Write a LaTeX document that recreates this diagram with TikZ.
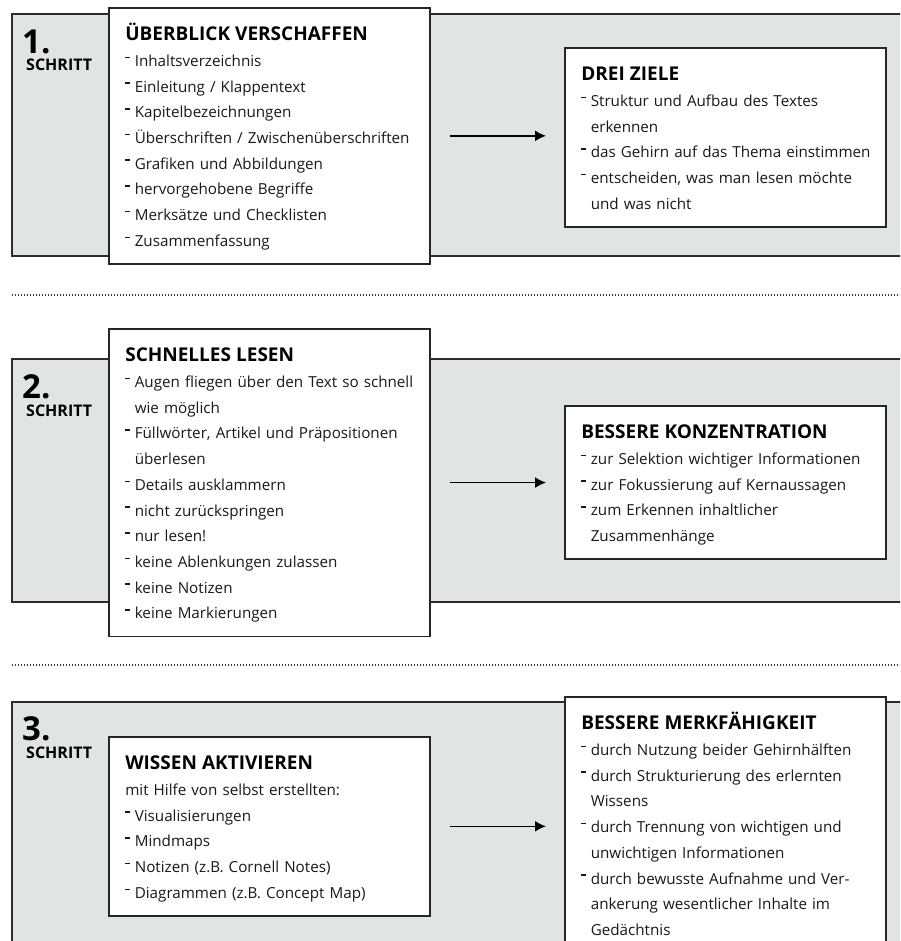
\documentclass[tikz,border=0pt]{standalone}
\usepackage{fontspec}
\setmainfont{Open Sans}
\usetikzlibrary{positioning,arrows.meta}

\definecolor{panelgrau}{RGB}{225,228,229}
\definecolor{rahmen}{RGB}{45,45,45}
\definecolor{schrift}{RGB}{25,25,25}

% Zeilen in den Kaesten
\newcommand{\titel}[1]{\rule{0pt}{33pt}{\color{black}\bfseries\fontsize{19}{25.7}\selectfont #1}}
\newcommand{\pkt}[1]{\mbox{\makebox[9.5pt][l]{\rule[8.2pt]{5pt}{1.6pt}}#1}}
\newcommand{\wtr}[1]{\mbox{\hspace*{9.5pt}#1}}
\newcommand{\schluss}{\rule[-17.5pt]{0pt}{17.5pt}}

\begin{document}
\begin{tikzpicture}[
                    x=1pt, y=-1pt,
                    >={Latex[length=11pt,width=11pt]},
                    panel/.style={fill=panelgrau, draw=rahmen, line width=1.5pt},
                    kasten/.style={draw=black!85, line width=1.6pt, fill=white, anchor=north west,
                                   inner xsep=16.5pt, inner ysep=0pt, text width=288pt, align=left,
                                   text=schrift, font=\fontsize{15.2}{25.7}\selectfont},
                    nummer/.style={font=\bfseries\fontsize{33}{33}\selectfont, inner sep=0pt, anchor=base west},
                    schritt/.style={font=\bfseries\fontsize{16}{16}\selectfont, inner sep=0pt, anchor=base west},
                    pfeil/.style={->, line width=1.5pt, shorten <=19pt, shorten >=18pt},
                    trenner/.style={draw=black!75, line width=1.2pt, dash pattern=on 1pt off 2pt}
                    ]
        \useasboundingbox (0,0) rectangle (900,941);
        \clip (0,0) rectangle (900,941);

        % Hintergruende und Trennlinien
        \draw[panel] (12,14) rectangle (910,256);
        \draw[panel] (12,359) rectangle (910,602);
        \draw[panel] (12,702) rectangle (910,960);
        \draw[trenner] (12,295) -- (900,295);
        \draw[trenner] (12,665) -- (900,665);

        % 1. Schritt
        \node[nummer] (n1) at (22,53.3) {1.};
        \node[schritt, below=17.5pt of n1.base west, anchor=base west, xshift=4pt] (s1) {SCHRITT};
        \node[kasten] (ueberblick) at (108,7) {\titel{ÜBERBLICK VERSCHAFFEN}\\
            \pkt{Inhaltsverzeichnis}\\
            \pkt{Einleitung / Klappentext}\\
            \pkt{Kapitelbezeichnungen}\\
            \pkt{Überschriften / Zwischenüberschriften}\\
            \pkt{Grafiken und Abbildungen}\\
            \pkt{hervorgehobene Begriffe}\\
            \pkt{Merksätze und Checklisten}\\
            \pkt{Zusammenfassung}\schluss};
        \node[kasten] (ziele) at (564,47) {\titel{DREI ZIELE}\\
            \pkt{Struktur und Aufbau des Textes}\\
            \wtr{erkennen}\\
            \pkt{das Gehirn auf das Thema einstimmen}\\
            \pkt{entscheiden, was man lesen möchte}\\
            \wtr{und was nicht}\schluss};
        \draw[pfeil] (ueberblick.east) -- (ueberblick.east -| ziele.west);

        % 2. Schritt
        \node[nummer] (n2) at (22,398.5) {2.};
        \node[schritt, below=18pt of n2.base west, anchor=base west, xshift=4pt] (s2) {SCHRITT};
        \node[kasten] (lesen) at (108,328) {\titel{SCHNELLES LESEN}\\
            \pkt{Augen fliegen über den Text so schnell}\\
            \wtr{wie möglich}\\
            \pkt{Füllwörter, Artikel und Präpositionen}\\
            \wtr{überlesen}\\
            \pkt{Details ausklammern}\\
            \pkt{nicht zurückspringen}\\
            \pkt{nur lesen!}\\
            \pkt{keine Ablenkungen zulassen}\\
            \pkt{keine Notizen}\\
            \pkt{keine Markierungen}\schluss};
        \node[kasten] (konzentration) at (564,405) {\titel{BESSERE KONZENTRATION}\\
            \pkt{zur Selektion wichtiger Informationen}\\
            \pkt{zur Fokussierung auf Kernaussagen}\\
            \pkt{zum Erkennen inhaltlicher}\\
            \wtr{Zusammenhänge}\schluss};
        \draw[pfeil] (lesen.east) -- (lesen.east -| konzentration.west);

        % 3. Schritt
        \node[nummer] (n3) at (22,740) {3.};
        \node[schritt, below=18pt of n3.base west, anchor=base west, xshift=4pt] (s3) {SCHRITT};
        \node[kasten] (wissen) at (108,736) {\titel{WISSEN AKTIVIEREN}\\
            \mbox{mit Hilfe von selbst erstellten:}\\
            \pkt{Visualisierungen}\\
            \pkt{Mindmaps}\\
            \pkt{Notizen (z.B. Cornell Notes)}\\
            \pkt{Diagrammen (z.B. Concept Map)}\schluss};
        \node[kasten] (merken) at (564,696) {\titel{BESSERE MERKFÄHIGKEIT}\\
            \pkt{durch Nutzung beider Gehirnhälften}\\
            \pkt{durch Strukturierung des erlernten}\\
            \wtr{Wissens}\\
            \pkt{durch Trennung von wichtigen und}\\
            \wtr{unwichtigen Informationen}\\
            \pkt{durch bewusste Aufnahme und Ver-}\\
            \wtr{ankerung wesentlicher Inhalte im}\\
            \wtr{Gedächtnis}\schluss};
        \draw[pfeil] (wissen.east) -- (wissen.east -| merken.west);
\end{tikzpicture}
\end{document}
